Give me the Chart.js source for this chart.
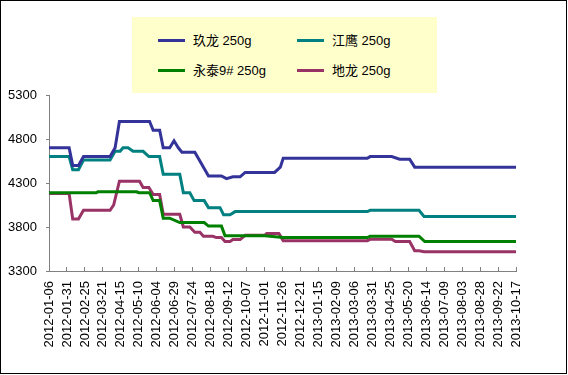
<!DOCTYPE html>
<html>
<head>
<meta charset="utf-8">
<script src="https://cdn.jsdelivr.net/npm/chart.js@4"></script>
<style>
  body { margin: 0; background: #fff; }
  #wrap { position: relative; width: 568px; height: 375px; }
  #frame { position: absolute; left: 0; top: 0; width: 567px; height: 374px; box-sizing: border-box; border: 1px solid #000; pointer-events: none; }
  #legend { position: absolute; left: 132px; top: 17px; width: 305px; height: 76px; background: #ffffcc;
            font: 13px "Liberation Sans", Arial, "Noto Sans CJK SC", sans-serif; color: #000; }
  .item { position: absolute; height: 16px; line-height: 16px; white-space: nowrap; }
  .swatch { display: inline-block; width: 27px; height: 3px; vertical-align: middle; margin-right: 8px; position: relative; top: -1px; }
</style>
</head>
<body>
<div id="wrap">
  <canvas id="priceChart" width="568" height="375"></canvas>
  <div id="legend"></div>
  <div id="frame"></div>
</div>
<script type="text/javascript">
  // 玖龙 250g
  var jiulongDates = ["2012-01-06","2012-02-03","2012-02-08","2012-02-16","2012-02-23","2012-03-31","2012-04-07","2012-04-13",
    "2012-05-25","2012-05-30","2012-06-08","2012-06-13","2012-06-22","2012-06-28","2012-07-04","2012-07-09","2012-07-27",
    "2012-08-15","2012-09-02","2012-09-09","2012-09-18","2012-09-28","2012-10-05","2012-11-15","2012-11-23","2012-11-27",
    "2013-03-24","2013-03-28","2013-04-27","2013-05-08","2013-05-22","2013-05-29","2013-10-17"];
  var jiulongPrices = [4700,4700,4500,4500,4600,4600,4700,5000,
    5000,4900,4900,4700,4700,4780,4700,4650,4650,
    4380,4380,4350,4370,4370,4420,4420,4480,4580,
    4580,4600,4600,4570,4570,4480,4480];

  // 江鹰 250g
  var jiangyingDates = ["2012-01-06","2012-02-03","2012-02-08","2012-02-16","2012-02-23","2012-03-31","2012-04-07","2012-04-14",
    "2012-04-18","2012-04-25","2012-05-02","2012-05-16","2012-05-24","2012-06-08","2012-06-13","2012-07-06","2012-07-11",
    "2012-07-20","2012-07-26","2012-08-09","2012-08-15","2012-08-31","2012-09-05","2012-09-14","2012-09-21",
    "2013-03-24","2013-03-28","2013-06-04","2013-06-11","2013-10-17"];
  var jiangyingPrices = [4600,4600,4450,4450,4560,4560,4660,4660,
    4700,4700,4660,4660,4600,4600,4400,4400,4190,
    4190,4100,4100,4020,4020,3940,3940,3975,
    3975,3990,3990,3920,3920];

  // 永泰9# 250g
  var yongtaiDates = ["2012-01-06","2012-03-12","2012-03-14","2012-05-07","2012-05-10","2012-05-25","2012-05-30","2012-06-08",
    "2012-06-13","2012-06-22","2012-07-06","2012-08-09","2012-08-15","2012-09-02","2012-09-07","2012-11-01","2012-11-27",
    "2013-03-24","2013-03-28","2013-06-04","2013-06-12","2013-10-17"];
  var yongtaiPrices = [4190,4190,4200,4200,4190,4190,4100,4100,
    3900,3900,3850,3850,3810,3810,3700,3700,3680,
    3680,3695,3695,3635,3635];

  // 地龙 250g
  var dilongDates = ["2012-01-06","2012-02-03","2012-02-08","2012-02-16","2012-02-23","2012-03-31","2012-04-05","2012-04-13",
    "2012-05-11","2012-05-16","2012-05-24","2012-05-30","2012-06-08","2012-06-13","2012-07-06","2012-07-11","2012-07-20",
    "2012-07-27","2012-08-03","2012-08-08","2012-08-21","2012-08-26","2012-09-02","2012-09-07","2012-09-14","2012-09-18",
    "2012-09-28","2012-10-05","2012-11-01","2012-11-04","2012-11-21","2012-11-27","2013-03-24","2013-03-28","2013-04-27",
    "2013-05-02","2013-05-22","2013-05-29","2013-06-04","2013-06-11","2013-10-17"];
  var dilongPrices = [4180,4180,3890,3890,3990,3990,4050,4320,
    4320,4250,4250,4170,4170,3945,3945,3800,3800,
    3740,3740,3695,3695,3680,3680,3635,3635,3657,
    3657,3705,3705,3725,3725,3645,3645,3660,3660,
    3635,3635,3530,3530,3520,3520];

  var seriesNames = ["玖龙 250g", "江鹰 250g", "永泰9# 250g", "地龙 250g"];
  var seriesColors = ["#333399", "#008080", "#008000", "#993366"];

  var startDate = "2012-01-06";
  var endDate = "2013-10-17";
  var tickStepDays = 25;
  var yTicks = [3300, 3800, 4300, 4800, 5300];

  var DAY = 86400000;
  function dayIndex(s) { return Math.round((Date.parse(s) - Date.parse(startDate)) / DAY); }
  function dayLabel(n) { return new Date(Date.parse(startDate) + n * DAY).toISOString().slice(0, 10); }
  function points(dates, prices) {
    return dates.map(function (d, i) { return { x: dayIndex(d), y: prices[i] }; });
  }

  var allSeries = [
    points(jiulongDates, jiulongPrices),
    points(jiangyingDates, jiangyingPrices),
    points(yongtaiDates, yongtaiPrices),
    points(dilongDates, dilongPrices)
  ];

  // legend box, two columns
  var legend = document.getElementById("legend");
  var slots = [[26, 16], [165, 16], [26, 46], [165, 46]];
  seriesNames.forEach(function (name, i) {
    var el = document.createElement("div");
    el.className = "item";
    el.style.left = slots[i][0] + "px";
    el.style.top = slots[i][1] + "px";
    el.innerHTML = '<span class="swatch" style="background:' + seriesColors[i] + '"></span>' + name;
    legend.appendChild(el);
  });

  var axisFont = { family: "'Liberation Sans', Arial, sans-serif", size: 13 };

  var chart = new Chart("priceChart", {
    type: "line",
    data: {
      datasets: allSeries.map(function (pts, i) {
        return {
          label: seriesNames[i],
          data: pts,
          borderColor: seriesColors[i],
          backgroundColor: seriesColors[i],
          borderWidth: 3,
          pointRadius: 0,
          tension: 0,
          fill: false
        };
      })
    },
    options: {
      responsive: false,
      animation: false,
      parsing: false,
      layout: { padding: { top: 95, right: 52, bottom: 0, left: 0 } },
      plugins: {
        legend: { display: false },
        tooltip: { enabled: false }
      },
      scales: {
        x: {
          type: "linear",
          min: 0,
          max: dayIndex(endDate),
          grid: { drawOnChartArea: false, tickLength: -4, color: "#808080" },
          border: { color: "#808080" },
          ticks: {
            stepSize: tickStepDays,
            autoSkip: false,
            maxRotation: 90,
            minRotation: 90,
            padding: 14,
            color: "#000",
            font: axisFont,
            callback: function (v) { return dayLabel(v); }
          },
          afterFit: function (scale) { scale.height = 104; }
        },
        y: {
          min: yTicks[0],
          max: yTicks[yTicks.length - 1],
          grid: { drawOnChartArea: false, tickLength: 3, color: "#808080" },
          border: { color: "#808080" },
          afterBuildTicks: function (scale) {
            scale.ticks = yTicks.map(function (v) { return { value: v }; });
          },
          ticks: {
            padding: 9,
            color: "#000",
            font: axisFont,
            callback: function (v) { return v; }
          },
          afterFit: function (scale) { scale.width = 49; }
        }
      }
    }
  });
</script>
</body>
</html>
